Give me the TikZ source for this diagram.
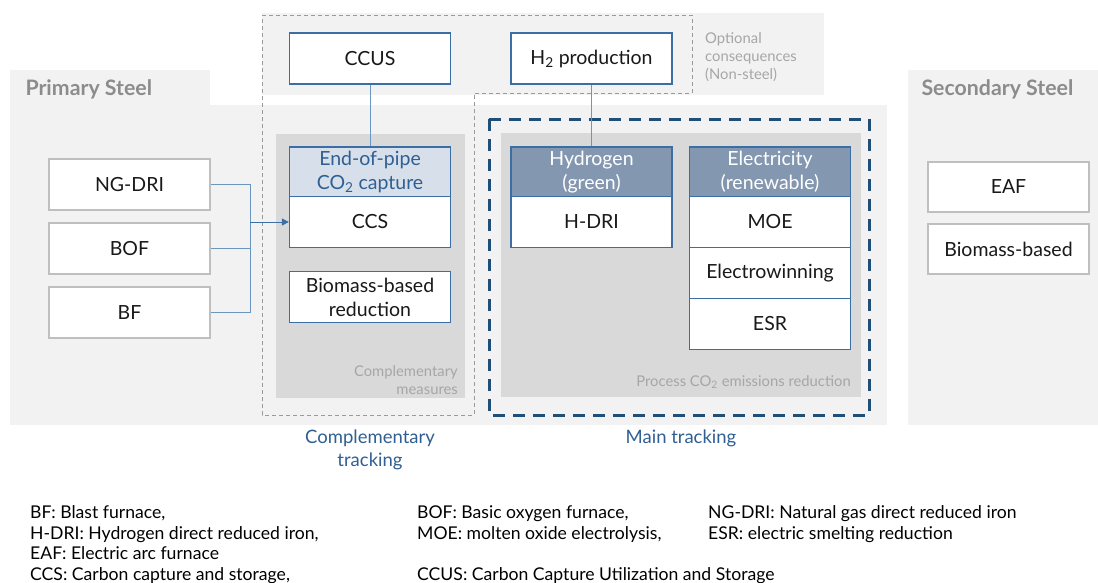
\documentclass[tikz,border=0pt]{standalone}
\usepackage{fontspec}
\setmainfont{Lato}
\usetikzlibrary{arrows.meta}
\definecolor{bgl}{HTML}{F2F2F2}
\definecolor{bgd}{HTML}{D9D9D9}
\definecolor{bblue}{HTML}{3A6EA5}
\definecolor{tblue}{HTML}{2F5F93}
\definecolor{hdrl}{HTML}{D6DFEA}
\definecolor{hdrd}{HTML}{8497B0}
\definecolor{dblue}{HTML}{1F4E79}
\definecolor{cblue}{HTML}{6A96C0}
\definecolor{gtext}{HTML}{8C8C8C}
\definecolor{ltext}{HTML}{A6A6A6}
\definecolor{gborder}{HTML}{BFBFBF}
\definecolor{gdash}{HTML}{9A9A9A}
\begin{document}
\begin{tikzpicture}[x=1pt,y=-1pt,
  bbox/.style={draw=bblue, line width=1.3pt, fill=white, minimum width=161pt, minimum height=51pt, inner sep=0pt, align=center, font=\fontsize{19.5}{24}\selectfont, text=black!90},
  gbox/.style={bbox, draw=gborder},
  hlight/.style={bbox, fill=hdrl, text=tblue},
  hdark/.style={bbox, fill=hdrd, text=white},
  conn/.style={draw=cblue, line width=1pt},
  steellbl/.style={anchor=base west, text=gtext, font=\fontsize{21.3}{24}\selectfont\bfseries},
  smallgray/.style={text=ltext, font=\fontsize{14.8}{17.8}\selectfont, inner sep=0pt},
  tracklbl/.style={text=tblue, font=\fontsize{18.5}{23}\selectfont, align=center, inner sep=0pt},
  legend/.style={anchor=base west, font=\fontsize{17.6}{20}\selectfont, inner sep=0pt}]
\useasboundingbox (0,0) rectangle (1098,582);
% backgrounds
\fill[bgl] (262,13) rectangle (824,95);
\fill[bgl] (10,70) rectangle (210,106);
\fill[bgl] (10,105) rectangle (887,425);
\fill[bgl] (908,70) rectangle (1098,425);
\fill[bgd] (276,134) rectangle (465,398);
\fill[bgd] (501,133) rectangle (861,397);
\draw[gdash, line width=0.9pt, dash pattern=on 4pt off 3pt] (262,15) -- (692,15) -- (692,93) -- (474,93) -- (474,415) -- (262,415) -- cycle;
\draw[dblue, line width=3pt, dash pattern=on 12pt off 8pt] (489,119) rectangle (869,415);
% labels
\node[steellbl] (pslbl) at (22,95) {Primary Steel};
\node[steellbl] (sslbl) at (918,95) {Secondary Steel};
\node[smallgray, anchor=north west, align=left] (optlbl) at (705,32.5) {Optional\\consequences\\(Non-steel)};
\node[smallgray, anchor=south east, align=right] (cmlbl) at (458,395) {Complementary\\measures};
\node[smallgray, anchor=east] (pclbl) at (851,382) {Process CO\textsubscript{2} emissions reduction};
\node[tracklbl] (ctlbl) at (370,449.5) {Complementary\\tracking};
\node[tracklbl] (mtlbl) at (681,438) {Main tracking};
% top boxes
\node[bbox] (ccus) at (370,58.5) {CCUS};
\node[bbox] (h2p) at (591.5,58.5) {H\textsubscript{2} production};
% complementary
\node[hlight, minimum height=50pt] (eop) at (370,172) {End-of-pipe\\CO\textsubscript{2} capture};
\node[bbox] (ccs) at (370,222) {CCS};
\node[bbox] (bio) at (370,297) {Biomass-based\\reduction};
% main
\node[hdark, minimum height=50pt] (hyd) at (591.5,172) {Hydrogen\\(green)};
\node[bbox] (hdri) at (591.5,222) {H-DRI};
\node[hdark, minimum height=50pt] (ele) at (770,172) {Electricity\\(renewable)};
\node[bbox] (moe) at (770,222) {MOE};
\node[bbox] (elw) at (770,273) {Electrowinning};
\node[bbox] (esr) at (770,324) {ESR};
% primary
\node[gbox] (ngdri) at (129.5,184.5) {NG-DRI};
\node[gbox] (bof) at (129.5,248.5) {BOF};
\node[gbox] (bf) at (129.5,312.5) {BF};
% secondary
\node[gbox, minimum height=50pt] (eaf) at (1008.5,187) {EAF};
\node[gbox, minimum height=50pt] (bio2) at (1008.5,249) {Biomass-based};
% connectors
\coordinate (jx) at (250,222);
\draw[conn] (ngdri.east) -| (jx);
\draw[conn] (bf.east) -| (jx);
\draw[conn] (bof.east) -- (bof.east -| jx);
\draw[conn, -{Triangle[length=7pt,width=7pt]}, draw=bblue] (jx) -- (ccs.west);
\draw[conn] (ccus.south) -- (eop.north);
\draw[conn] (h2p.south) -- (hyd.north);
% legend
\node[legend] (l1) at (30,518.5) {BF: Blast furnace,};
\node[legend] (l2) at (30,539) {H-DRI: Hydrogen direct reduced iron,};
\node[legend] (l3) at (30,559.5) {EAF: Electric arc furnace};
\node[legend] (l4) at (30,580) {CCS: Carbon capture and storage,};
\node[legend] (l5) at (417,518.5) {BOF: Basic oxygen furnace,};
\node[legend] (l6) at (417,539) {MOE: molten oxide electrolysis,};
\node[legend] (l7) at (417,580) {CCUS: Carbon Capture Utilization and Storage};
\node[legend] (l8) at (708,518.5) {NG-DRI: Natural gas direct reduced iron};
\node[legend] (l9) at (708,539) {ESR: electric smelting reduction};
\end{tikzpicture}
\end{document}
